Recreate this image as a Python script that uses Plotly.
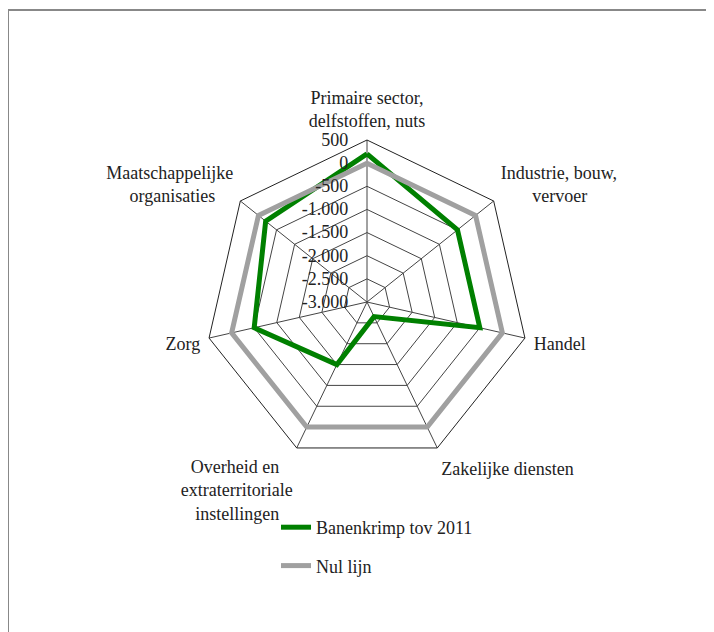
import plotly.graph_objects as go

categories = [
    "Primaire sector, delfstoffen, nuts",
    "Industrie, bouw, vervoer",
    "Handel",
    "Zakelijke diensten",
    "Overheid en extraterritoriale instellingen",
    "Zorg",
    "Maatschappelijke organisaties",
]
banenkrimp = [200, -500, -500, -2650, -1500, -500, -200]
nul_lijn = [0, 0, 0, 0, 0, 0, 0]
tick_values = [-3000, -2500, -2000, -1500, -1000, -500, 0, 500]
tick_labels = ["-3.000", "-2.500", "-2.000", "-1.500", "-1.000", "-500", "0", "500"]

# display labels (line-wrapped, roughly centred as in the original)
NB = "\u00a0"
label_lines = {
    "Primaire sector, delfstoffen, nuts": ["Primaire sector,", "delfstoffen, nuts"],
    "Industrie, bouw, vervoer": ["Industrie, bouw,", NB * 7 + "vervoer"],
    "Handel": ["Handel"],
    "Zakelijke diensten": ["Zakelijke diensten"],
    "Overheid en extraterritoriale instellingen":
        ["Overheid en" + NB * 3, "extraterritoriale", "instellingen" + NB * 3],
    "Zorg": ["Zorg"],
    "Maatschappelijke organisaties": ["Maatschappelijke", "organisaties" + NB * 4],
}
display = ["<br>".join(label_lines[c]) for c in categories]

FONT = "Liberation Serif"
OFF = 8                      # page body margin
W, H = 706, 624
cx, cy, R = 367 - OFF, 302 - OFF, 162

theta = categories + [categories[0]]

fig = go.Figure()
fig.add_trace(go.Scatterpolar(
    r=banenkrimp + [banenkrimp[0]], theta=theta, mode="lines",
    name="Banenkrimp tov 2011", line=dict(color="#008000", width=5),
    legendgroup="a",
))
fig.add_trace(go.Scatterpolar(
    r=nul_lijn + [nul_lijn[0]], theta=theta, mode="lines",
    name="Nul lijn", line=dict(color="#A0A0A0", width=5),
    legendgroup="b",
))

fig.update_layout(
    width=W, height=H,
    margin=dict(l=0, r=0, t=0, b=0),
    paper_bgcolor="white",
    font=dict(family=FONT, size=18, color="#222222"),
    polar=dict(
        domain=dict(x=[(cx - R) / W, (cx + R) / W],
                    y=[(H - cy - R) / H, (H - cy + R) / H]),
        gridshape="linear",
        bgcolor="white",
        radialaxis=dict(
            range=[-3000, 500], angle=90, tickangle=90,
            tickvals=tick_values, ticktext=tick_labels,
            showline=False, ticks="outside", ticklen=12,
            tickcolor="rgba(0,0,0,0)", side="counterclockwise",
            gridcolor="#444444", gridwidth=1,
            tickfont=dict(family=FONT, size=18, color="#222222"),
        ),
        angularaxis=dict(
            rotation=90, direction="clockwise",
            tickmode="array", tickvals=categories, ticktext=display,
            gridcolor="#444444", gridwidth=1,
            linecolor="#222222", linewidth=1, showline=True,
            ticks="outside", ticklen=5, tickcolor="rgba(0,0,0,0)",
            tickfont=dict(family=FONT, size=18, color="#222222"),
        ),
    ),
    showlegend=True,
    legend=dict(
        x=268 / W, y=1 - 501 / H, xanchor="left", yanchor="top",
        tracegroupgap=12,
        font=dict(family=FONT, size=18, color="#222222"),
        bgcolor="rgba(0,0,0,0)",
    ),
    shapes=[dict(
        type="rect", xref="paper", yref="paper",
        x0=0, x1=1.02, y0=-0.02, y1=1 - 2 / H,
        line=dict(color="#888888", width=2), layer="below",
    )],
)

fig.write_html("out.html")
